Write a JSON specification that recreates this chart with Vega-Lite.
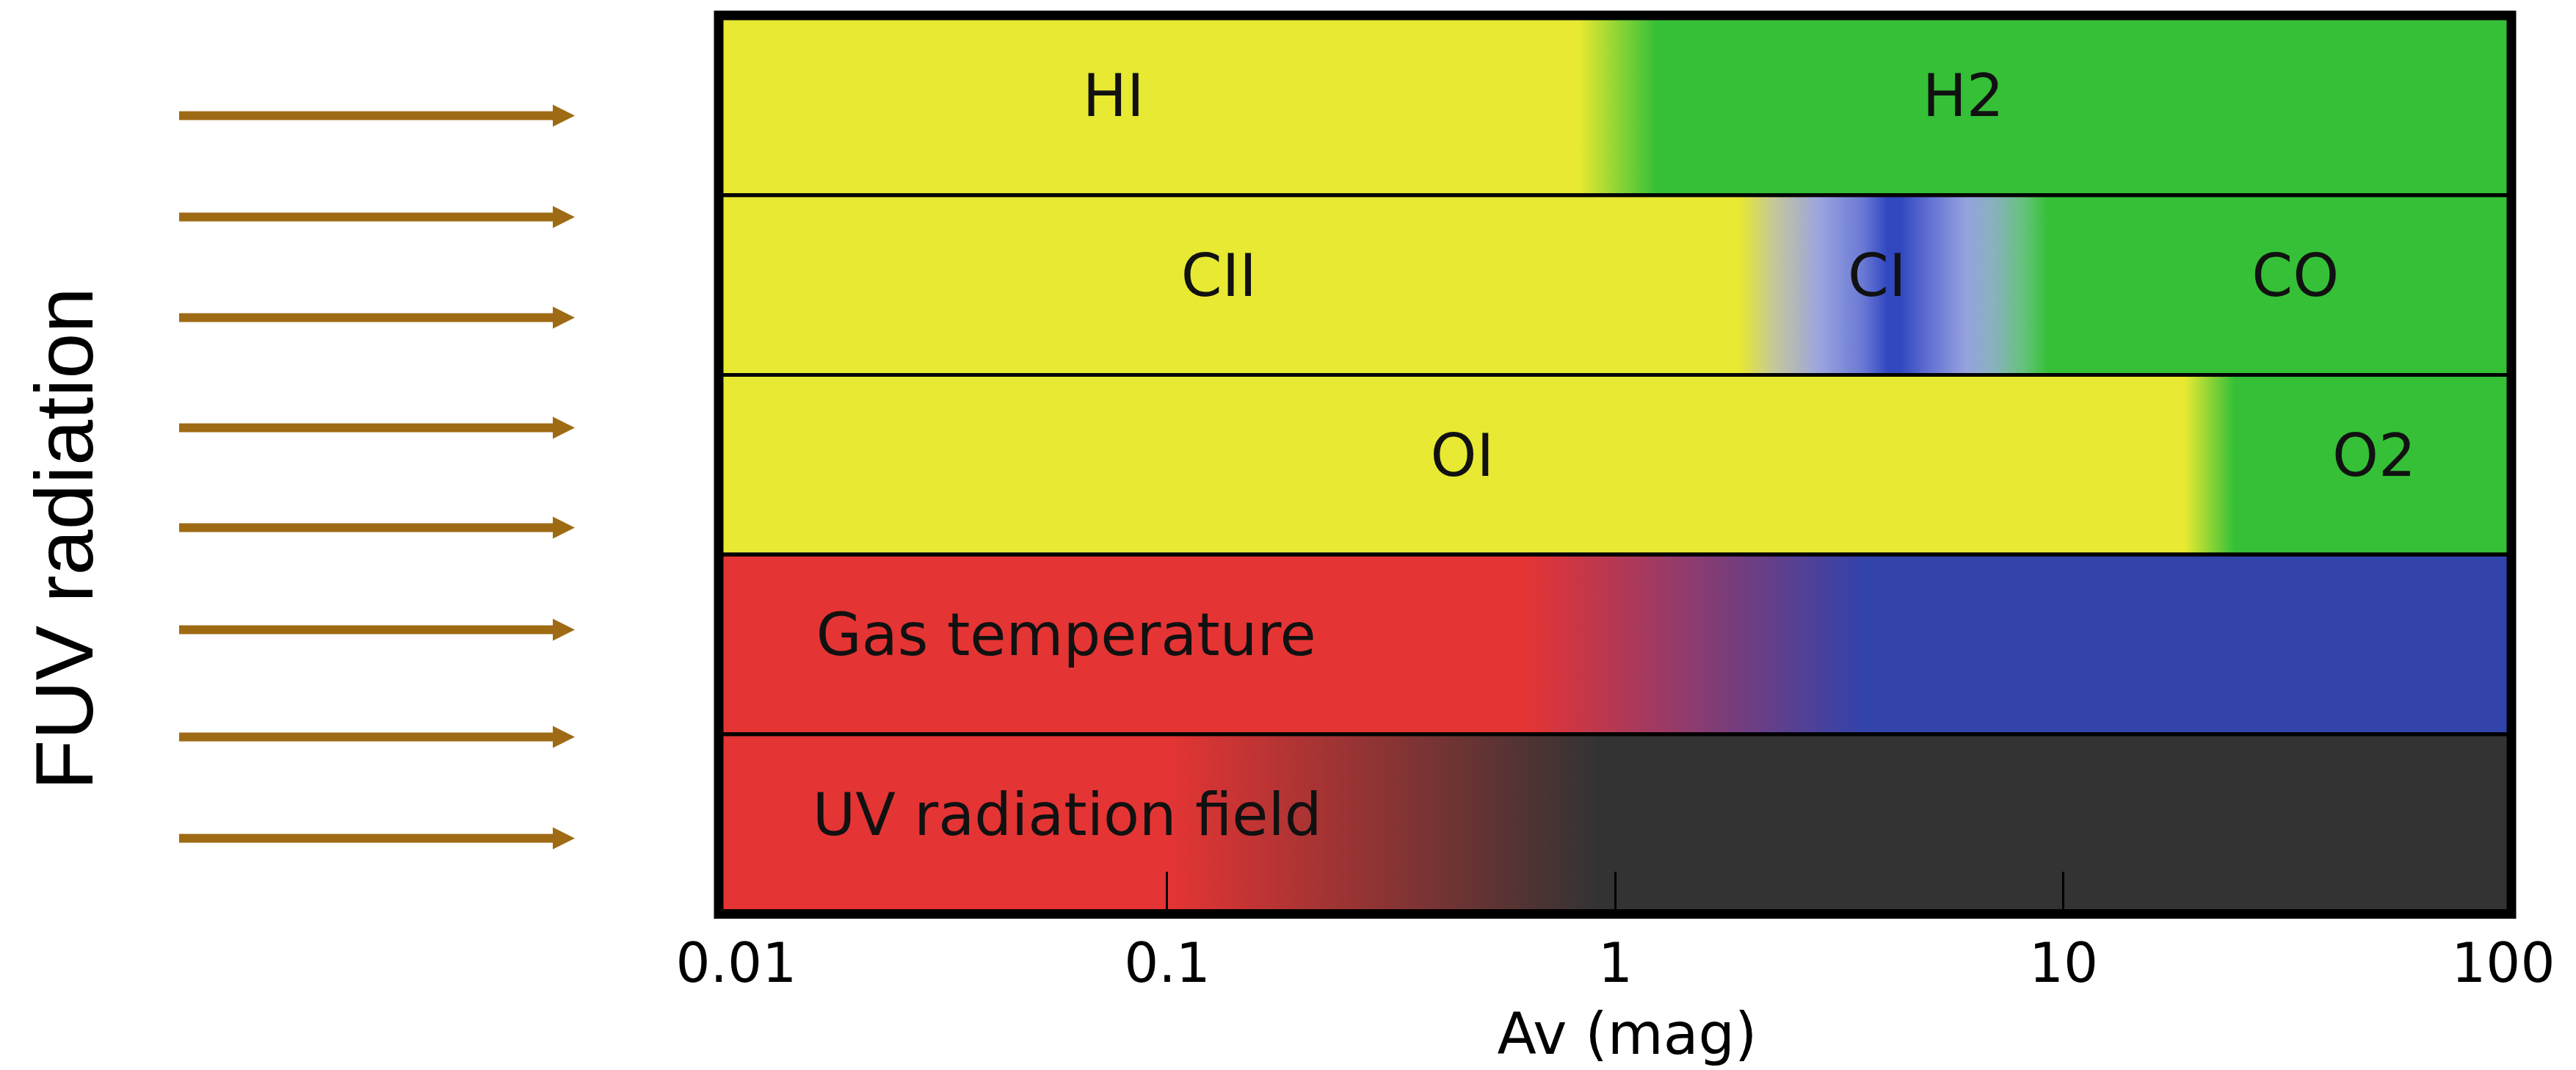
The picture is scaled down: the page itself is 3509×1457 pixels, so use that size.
{
  "$schema": "https://vega.github.io/schema/vega-lite/v6.json",
  "background": "white",
  "padding": {"left": 35, "top": 14, "right": 20, "bottom": 20},
  "bounds": "flush",
  "spacing": 226,
  "config": {"view": {"stroke": null}, "font": "DejaVu Sans"},
  "datasets": {
    "arrows": [
      {"arrow": 1, "depth": 0.558},
      {"arrow": 2, "depth": 1.122},
      {"arrow": 3, "depth": 1.682},
      {"arrow": 4, "depth": 2.295},
      {"arrow": 5, "depth": 2.850},
      {"arrow": 6, "depth": 3.418},
      {"arrow": 7, "depth": 4.015},
      {"arrow": 8, "depth": 4.579}
    ],
    "bands": [
      {"band": "H", "quantity": "hydrogen"},
      {"band": "C", "quantity": "carbon"},
      {"band": "O", "quantity": "oxygen"},
      {"band": "T", "quantity": "gas temperature"},
      {"band": "UV", "quantity": "UV radiation field"}
    ],
    "zones": [
      {"band": "H", "phase": "atomic", "from": 0.01, "to": 0.83},
      {"band": "H", "phase": "molecular", "from": 1.24, "to": 100},
      {"band": "C", "phase": "atomic", "from": 0.01, "to": 1.89},
      {"band": "C", "phase": "neutral carbon", "from": 4.05, "to": 4.35},
      {"band": "C", "phase": "molecular", "from": 9.25, "to": 100},
      {"band": "O", "phase": "atomic", "from": 0.01, "to": 18.7},
      {"band": "O", "phase": "molecular", "from": 24.1, "to": 100},
      {"band": "T", "phase": "warm", "from": 0.01, "to": 0.63},
      {"band": "T", "phase": "cold", "from": 3.6, "to": 100},
      {"band": "UV", "phase": "unshielded", "from": 0.01, "to": 0.1},
      {"band": "UV", "phase": "shielded", "from": 0.92, "to": 100}
    ],
    "transitions": [
      {"band": "H", "kind": "atomic-molecular", "from": 0.83, "to": 1.24},
      {"band": "O", "kind": "atomic-molecular", "from": 18.7, "to": 24.1},
      {"band": "C", "kind": "CII-CI", "from": 1.89, "to": 4.05},
      {"band": "C", "kind": "CI-CO", "from": 4.35, "to": 9.25},
      {"band": "T", "kind": "cooling", "from": 0.63, "to": 3.6},
      {"band": "UV", "kind": "shielding", "from": 0.1, "to": 0.92}
    ],
    "labels": [
      {"band": "H", "text": "HI", "av": 0.076},
      {"band": "H", "text": "H2", "av": 5.98},
      {"band": "C", "text": "CII", "av": 0.1306},
      {"band": "C", "text": "CI", "av": 3.84},
      {"band": "C", "text": "CO", "av": 32.96},
      {"band": "O", "text": "OI", "av": 0.456},
      {"band": "O", "text": "O2", "av": 49.4},
      {"band": "T", "text": "Gas temperature", "av": 0.0596},
      {"band": "UV", "text": "UV radiation field", "av": 0.0599}
    ]
  },
  "hconcat": [
    {
      "width": 509,
      "height": 1223.5,
      "data": {"name": "arrows"},
      "encoding": {
        "y": {
          "field": "depth",
          "type": "quantitative",
          "scale": {"domain": [0, 5], "reverse": true, "nice": false, "zero": false},
          "axis": {
            "title": "FUV radiation",
            "labels": false,
            "ticks": false,
            "domain": false,
            "grid": false,
            "titleX": -119,
            "titleY": 712,
            "titleAngle": 270,
            "titleAlign": "center",
            "titleBaseline": "alphabetic",
            "titleFont": "Liberation Sans",
            "titleFontSize": 112,
            "titleFontWeight": "normal",
            "titleColor": "black"
          }
        }
      },
      "layer": [
        {
          "mark": {"type": "rule", "color": "#9e6a14", "strokeWidth": 12, "strokeCap": "butt"},
          "encoding": {
            "x": {"datum": 0, "type": "quantitative", "scale": {"domain": [0, 1], "nice": false, "zero": false}, "axis": null},
            "x2": {"datum": 1}
          }
        },
        {
          "mark": {"type": "point", "shape": "M0,-1L2,0L0,1Z", "filled": true, "size": 900, "color": "#9e6a14", "opacity": 1, "strokeWidth": 0},
          "encoding": {
            "x": {"datum": 1, "type": "quantitative", "axis": null}
          }
        }
      ]
    },
    {
      "width": 2442,
      "height": 1223.5,
      "layer": [
        {
          "data": {"name": "zones"},
          "mark": {"type": "rect", "strokeWidth": 2},
          "encoding": {
            "x": {
              "field": "from",
              "type": "quantitative",
              "scale": {"type": "log", "domain": [0.01, 100], "nice": false},
              "axis": {
                "values": [0.01, 0.1, 1, 10, 100],
                "format": "~g",
                "domain": false,
                "grid": false,
                "ticks": true,
                "tickSize": -58,
                "tickWidth": 3,
                "tickColor": "black",
                "labelFont": "DejaVu Sans",
                "labelFontSize": 74,
                "labelColor": "black",
                "labelPadding": 150,
                "labelBaseline": "alphabetic",
                "labelFlush": true,
                "labelFlushOffset": 59,
                "labelOverlap": false,
                "title": "Av (mag)",
                "titleFont": "DejaVu Sans",
                "titleFontSize": 78,
                "titleFontWeight": "normal",
                "titleColor": "black",
                "titleX": 1237,
                "titleY": 190,
                "titleAlign": "center",
                "titleBaseline": "alphabetic",
                "zindex": 1
              }
            },
            "x2": {"field": "to"},
            "y": {
              "field": "band",
              "type": "nominal",
              "scale": {"domain": ["H", "C", "O", "T", "UV"], "paddingInner": 0, "paddingOuter": 0},
              "axis": null
            },
            "fill": {
              "field": "phase",
              "type": "nominal",
              "scale": {
                "domain": ["atomic", "molecular", "neutral carbon", "warm", "cold", "unshielded", "shielded"],
                "range": ["#e7e932", "#35c037", "#3248c0", "#e53434", "#3243aa", "#e53434", "#333333"]
              },
              "legend": null
            },
            "stroke": {
              "field": "phase",
              "type": "nominal",
              "scale": {
                "domain": ["atomic", "molecular", "neutral carbon", "warm", "cold", "unshielded", "shielded"],
                "range": ["#e7e932", "#35c037", "#3248c0", "#e53434", "#3243aa", "#e53434", "#333333"]
              },
              "legend": null
            }
          }
        },
        {
          "data": {"name": "transitions"},
          "transform": [{"filter": "datum.kind === 'atomic-molecular'"}],
          "mark": {
            "type": "rect",
            "fill": {"gradient": "linear", "x1": 0, "y1": 0, "x2": 1, "y2": 0,
              "stops": [{"offset": 0, "color": "#e7e932"}, {"offset": 1, "color": "#35c037"}]}
          },
          "encoding": {
            "x": {"field": "from", "type": "quantitative"},
            "x2": {"field": "to"},
            "y": {"field": "band", "type": "nominal"}
          }
        },
        {
          "data": {"name": "transitions"},
          "transform": [{"filter": "datum.kind === 'CII-CI'"}],
          "mark": {
            "type": "rect",
            "fill": {"gradient": "linear", "x1": 0, "y1": 0, "x2": 1, "y2": 0,
              "stops": [
                {"offset": 0, "color": "#e7e932"},
                {"offset": 0.24, "color": "#c4c79a"},
                {"offset": 0.54, "color": "#9ba5de"},
                {"offset": 0.84, "color": "#6978d4"},
                {"offset": 1, "color": "#3248c0"}
              ]}
          },
          "encoding": {
            "x": {"field": "from", "type": "quantitative"},
            "x2": {"field": "to"},
            "y": {"field": "band", "type": "nominal"}
          }
        },
        {
          "data": {"name": "transitions"},
          "transform": [{"filter": "datum.kind === 'CI-CO'"}],
          "mark": {
            "type": "rect",
            "fill": {"gradient": "linear", "x1": 0, "y1": 0, "x2": 1, "y2": 0,
              "stops": [
                {"offset": 0, "color": "#3248c0"},
                {"offset": 0.18, "color": "#5f6ed2"},
                {"offset": 0.44, "color": "#96a2de"},
                {"offset": 0.64, "color": "#87b2bc"},
                {"offset": 0.84, "color": "#64c378"},
                {"offset": 1, "color": "#35c037"}
              ]}
          },
          "encoding": {
            "x": {"field": "from", "type": "quantitative"},
            "x2": {"field": "to"},
            "y": {"field": "band", "type": "nominal"}
          }
        },
        {
          "data": {"name": "transitions"},
          "transform": [{"filter": "datum.kind === 'cooling'"}],
          "mark": {
            "type": "rect",
            "fill": {"gradient": "linear", "x1": 0, "y1": 0, "x2": 1, "y2": 0,
              "stops": [{"offset": 0, "color": "#e53434"}, {"offset": 1, "color": "#3243aa"}]}
          },
          "encoding": {
            "x": {"field": "from", "type": "quantitative"},
            "x2": {"field": "to"},
            "y": {"field": "band", "type": "nominal"}
          }
        },
        {
          "data": {"name": "transitions"},
          "transform": [{"filter": "datum.kind === 'shielding'"}],
          "mark": {
            "type": "rect",
            "fill": {"gradient": "linear", "x1": 0, "y1": 0, "x2": 1, "y2": 0,
              "stops": [{"offset": 0, "color": "#e53434"}, {"offset": 1, "color": "#333333"}]}
          },
          "encoding": {
            "x": {"field": "from", "type": "quantitative"},
            "x2": {"field": "to"},
            "y": {"field": "band", "type": "nominal"}
          }
        },
        {
          "data": {"name": "bands"},
          "mark": {"type": "rect", "fillOpacity": 0, "stroke": "black", "strokeWidth": 5},
          "encoding": {
            "x": {"datum": 0.01, "type": "quantitative"},
            "x2": {"datum": 100},
            "y": {"field": "band", "type": "nominal"}
          }
        },
        {
          "data": {"name": "labels"},
          "mark": {"type": "text", "align": "center", "baseline": "middle", "dy": -9, "font": "DejaVu Sans", "fontSize": 80, "color": "#111111"},
          "encoding": {
            "x": {"field": "av", "type": "quantitative"},
            "y": {"field": "band", "type": "nominal"},
            "text": {"field": "text", "type": "nominal"}
          }
        },
        {
          "data": {"values": [{"frame": "plot"}]},
          "mark": {"type": "rect", "fillOpacity": 0, "stroke": "black", "strokeWidth": 13},
          "encoding": {
            "x": {"datum": 0.01, "type": "quantitative"},
            "x2": {"datum": 100}
          }
        }
      ]
    }
  ]
}
